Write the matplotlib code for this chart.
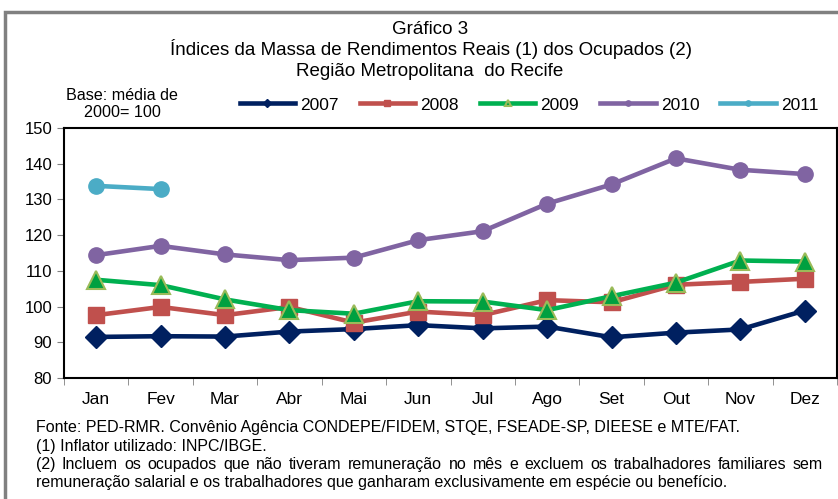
import numpy as np
import matplotlib.pyplot as plt
from matplotlib.patches import Rectangle

plt.rcParams['font.family'] = ['Liberation Sans', 'DejaVu Sans']

meses = ["Jan", "Fev", "Mar", "Abr", "Mai", "Jun", "Jul", "Ago", "Set", "Out", "Nov", "Dez"]
s2007 = [91.5, 91.7, 91.6, 93.0, 93.7, 94.8, 93.9, 94.4, 91.4, 92.7, 93.6, 98.9]
s2008 = [97.6, 99.9, 97.6, 99.9, 95.5, 98.6, 97.6, 101.8, 101.2, 106.1, 106.9, 107.8]
s2009 = [107.5, 106.0, 102.0, 99.0, 98.0, 101.5, 101.4, 99.0, 102.9, 106.7, 112.9, 112.6]
s2010 = [114.4, 117.0, 114.6, 113.0, 113.7, 118.6, 121.1, 128.8, 134.2, 141.5, 138.3, 137.1]
s2011 = [133.8, 132.9]

fig = plt.figure(figsize=(8.38, 4.99), dpi=100)
W, H = 838, 499
ax = fig.add_axes([64 / W, 1 - 378 / H, (837 - 64) / W, (378 - 128) / H])

x = np.arange(len(meses))
lw = 3.3
ax.plot(x, s2007, color="#002060", lw=lw, marker="D", ms=11, label="2007")
ax.plot(x, s2008, color="#C0504D", lw=lw, marker="s", ms=11, label="2008")
ax.plot(x, s2009, color="#00B050", lw=lw, marker="^", ms=13, mfc="#00A040",
        mec="#9BBB59", mew=1.5, label="2009")
ax.plot(x, s2010, color="#8064A2", lw=lw, marker="o", ms=11, label="2010")
ax.plot(x[:len(s2011)], s2011, color="#4BACC6", lw=lw, marker="o", ms=11, label="2011")

ax.set_xlim(-0.5, 11.5)
ax.set_ylim(80, 150)
ax.set_yticks(range(80, 151, 10))
ax.set_xticks(x)
ax.set_xticklabels(meses)
ax.set_xticks(np.arange(-0.5, 12, 1), minor=True)
ax.tick_params(axis="x", which="major", length=0, pad=10, labelsize=12.5)
ax.tick_params(axis="x", which="minor", length=5, color="#808080")
ax.tick_params(axis="y", length=5, labelsize=12, color="#808080")
for s in ax.spines.values():
    s.set_color("black")
    s.set_linewidth(1.5)

leg = fig.legend(loc="center", bbox_to_anchor=(529 / W, 1 - 105 / H), ncol=5,
                 frameon=False, fontsize=12.5, handlelength=3.2, columnspacing=1.2,
                 handletextpad=0.3, markerscale=0.35)

fig.text(430 / W, 1 - 30 / H, "Gráfico 3", ha="center", va="center", fontsize=13.5)
fig.text(431 / W, 1 - 49 / H, "Índices da Massa de Rendimentos Reais (1) dos Ocupados (2)",
         ha="center", va="center", fontsize=13.5)
fig.text(430 / W, 1 - 71 / H, "Região Metropolitana  do Recife", ha="center", va="center",
         fontsize=13.5)
fig.text(122 / W, 1 - 104 / H, "Base: média de\n2000= 100", ha="center", va="center",
         fontsize=11.6, linespacing=1.1)

notas = [
    "Fonte: PED-RMR. Convênio Agência CONDEPE/FIDEM, STQE, FSEADE-SP, DIEESE e MTE/FAT.",
    "(1) Inflator utilizado: INPC/IBGE.",
    "(2) Incluem os ocupados que não tiveram remuneração no mês e excluem os trabalhadores familiares sem",
    "remuneração salarial e os trabalhadores que ganharam exclusivamente em espécie ou benefício.",
]
renderer = fig.canvas.get_renderer()
for i, t in enumerate(notas):
    y = 1 - (432 + i * 18.5) / H
    if i != 2:
        fig.text(36 / W, y, t, ha="left", va="baseline", fontsize=11.5)
        continue
    # justified line: spread the words to the right margin
    words = t.split(" ")
    objs = [fig.text(0, y, w, ha="left", va="baseline", fontsize=11.5) for w in words]
    widths = [o.get_window_extent(renderer).width for o in objs]
    gap = (823 - 36 - sum(widths)) / (len(words) - 1)
    pos = 36
    for o, wd in zip(objs, widths):
        o.set_x(pos / W)
        pos += wd + gap

fig.patches.append(Rectangle((5 / W, -0.05), 1.0, 1 - 12 / H + 0.05, transform=fig.transFigure,
                             fill=False, ec="#808080", lw=2.5))

fig.savefig("out.png", dpi=100)
